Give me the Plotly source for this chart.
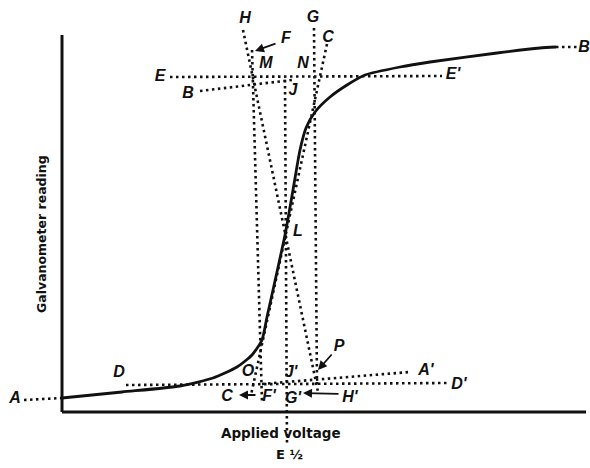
import plotly.graph_objects as go

# ---- Data (diagram coordinates: x to the right, y downward, in figure units) ----
# Polarographic wave (galvanometer reading vs applied voltage)
wave_x = [62, 122, 180, 213, 237, 252, 262, 267, 273, 285, 293, 300, 306, 315, 330, 347, 365, 400, 430, 497, 540, 556]
wave_y = [398, 392, 386, 378, 367, 355, 340, 317, 290, 235, 190, 150, 128, 112, 97, 85, 75, 67, 62, 53, 48, 47]

# Axes
yaxis_x = [62, 62]
yaxis_y = [35, 412]
xaxis_x = [62, 586]
xaxis_y = [412, 412]

# Construction (dotted) lines: name -> endpoints
line_A = ([24, 62], [400, 398])          # A .... start of residual current
line_B_end = ([556, 577], [47, 47])      # .... B  limiting current
line_AA = ([262, 410], [384, 372])       # extrapolated residual current -> A'
line_BB = ([200, 292], [91, 80])         # extrapolated limiting current <- B
line_DD = ([126, 450], [385, 383])       # D .... D'
line_EE = ([170, 442], [77, 76])         # E .... E'
line_FF = ([252, 262], [50, 402])        # F .... F'
line_GG = ([314, 317], [28, 384])        # G .... G'
line_HH = ([243, 318], [30, 392])        # H .... H'
line_CC = ([327, 251], [44, 395])        # C tangent through L
line_Ehalf = ([285, 287], [80, 446])     # J ... E1/2

# Labels
label_text = ["H", "G", "C", "F", "M", "N", "E", "E'", "B", "B", "J", "L",
              "D", "D'", "A", "A'", "O", "J'", "P", "C", "F'", "G'", "H'"]
label_x = [245, 313, 328, 286, 266, 303, 160, 453, 188, 584, 293, 298,
           119, 459, 15, 426, 248, 291, 339, 227, 269, 293, 350]
label_y = [19, 18, 38, 39, 64, 64, 77, 75, 94, 48, 91, 232,
           373, 385, 399, 371, 372, 373, 347, 397, 397, 399, 398]

xlabel_text = "Applied voltage"
ylabel_text = "Galvanometer reading"
ehalf_text = "E ½"

fig = go.Figure()

dot_style = dict(color="#111111", width=2.6, dash="2.5px,3.5px")

def add_line(pts, style=dot_style):
    fig.add_trace(go.Scatter(x=pts[0], y=pts[1], mode="lines", line=style,
                             hoverinfo="skip", showlegend=False))

for pts in [line_A, line_B_end, line_AA, line_BB, line_DD, line_EE, line_FF,
            line_GG, line_HH, line_CC, line_Ehalf]:
    add_line(pts)

solid = dict(color="#111111", width=3)
add_line((yaxis_x, yaxis_y), solid)
add_line((xaxis_x, xaxis_y), solid)

fig.add_trace(go.Scatter(x=wave_x, y=wave_y, mode="lines",
                         line=dict(color="#111111", width=2.8, shape="spline", smoothing=0.6),
                         hoverinfo="skip", showlegend=False))

fig.add_trace(go.Scatter(x=label_x, y=label_y, mode="text", text=label_text,
                         textfont=dict(family="Liberation Sans, Arial", size=16,
                                       color="#111111", weight="bold", style="italic"),
                         hoverinfo="skip", showlegend=False))

# Arrows
arrows = [
    ((277, 43), (255, 51)),    # F -> line
    ((257, 395), (239, 395)),  # F' -> C
    ((340, 394), (303, 393)),  # H' -> line
    ((333, 353), (318, 370)),  # P -> hook
]
for (tx, ty), (hx, hy) in arrows:
    fig.add_annotation(x=hx, y=hy, ax=tx, ay=ty, xref="x", yref="y", axref="x", ayref="y",
                       showarrow=True, arrowhead=2, arrowsize=1, arrowwidth=1.8,
                       arrowcolor="#111111", text="")

fig.add_annotation(x=281, y=433, xref="x", yref="y", text=xlabel_text, showarrow=False,
                   font=dict(family="DejaVu Sans", size=13.5, color="#111111", weight="bold"))
fig.add_annotation(x=289, y=454, xref="x", yref="y", text=ehalf_text, showarrow=False,
                   font=dict(family="DejaVu Sans", size=13, color="#111111", weight="bold"))
fig.add_annotation(x=41, y=234, xref="x", yref="y", text=ylabel_text, showarrow=False,
                   textangle=-90,
                   font=dict(family="DejaVu Sans", size=12.5, color="#111111", weight="bold"))

fig.update_layout(
    width=590, height=468,
    margin=dict(l=0, r=0, t=0, b=0),
    paper_bgcolor="white", plot_bgcolor="white",
    xaxis=dict(range=[0, 590], visible=False, fixedrange=True),
    yaxis=dict(range=[468, 0], visible=False, fixedrange=True),
    showlegend=False,
)

fig.write_html("out.html", config={"displayModeBar": False},
               post_script="document.body.style.margin='0';document.body.style.overflow='hidden';")
